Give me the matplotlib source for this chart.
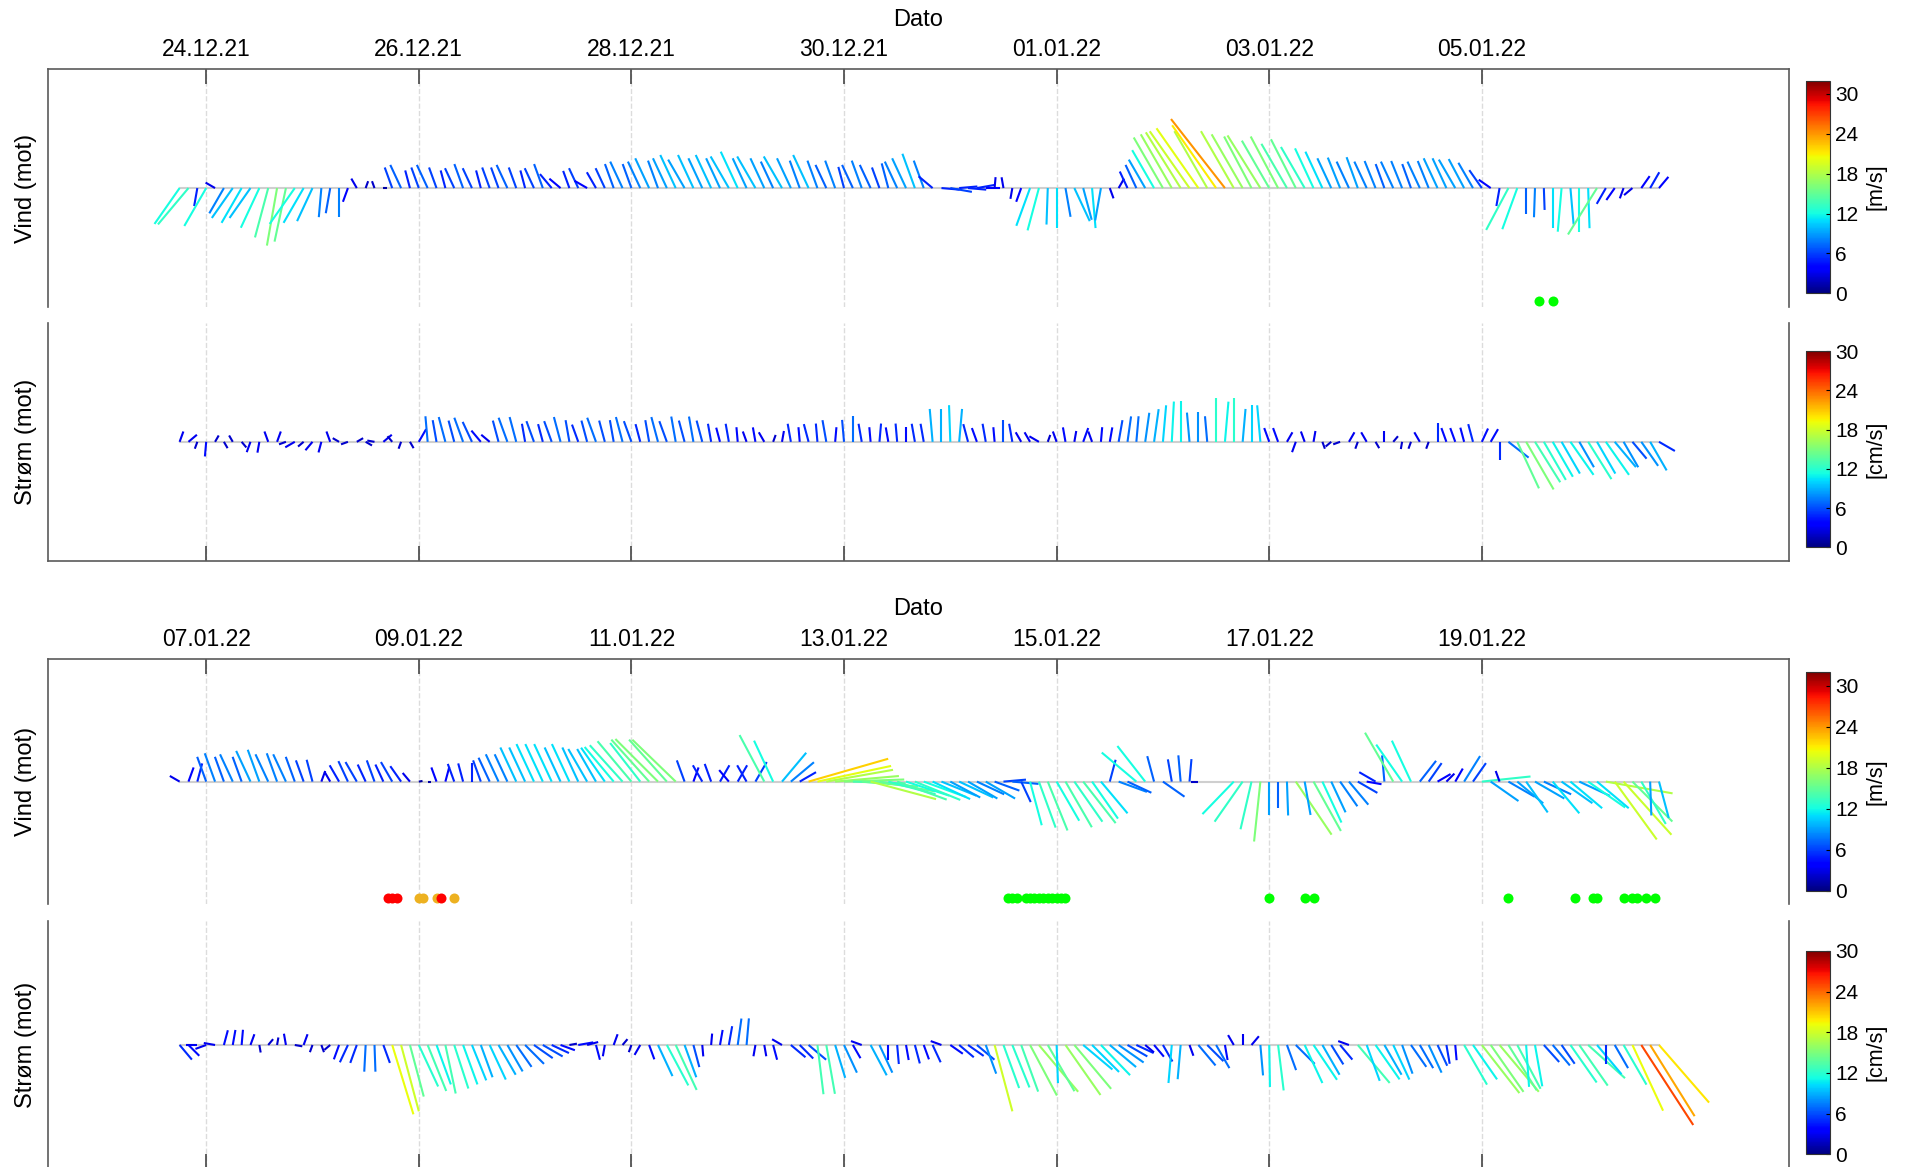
import numpy as np
import matplotlib
matplotlib.use("Agg")
import matplotlib.pyplot as plt
import matplotlib.dates as mdates
from matplotlib.collections import LineCollection
from datetime import datetime

plt.rcParams['font.family'] = ['Liberation Sans', 'DejaVu Sans']

FIG_W, FIG_H, DPI = 1912, 1167, 100
STEP_H = 2          # hours between sticks, one row of 12 = one day
Y_LIM = 32.5

# ---- period 1: sticks from 23.12.21 18:00 ----
start_1 = datetime(2021, 12, 23, 18)
first_tick_1 = datetime(2021, 12, 24)

wind_1_speed = [
    [12, 13, 5, 12, 3, 8, 10, 11, 10, 12, 14, 16],
    [15, 12, 11, 10, 8, 7, 8, 4, 3, 2, 2, 1],
    [6, 7, 5, 6, 7, 6, 5, 6, 7, 6, 5, 6],
    [6, 7, 6, 5, 6, 7, 5, 4, 5, 6, 4, 5],
    [6, 7, 8, 7, 8, 9, 8, 9, 10, 9, 10, 9],
    [10, 9, 10, 11, 9, 10, 9, 8, 10, 9, 8, 10],
    [8, 7, 8, 6, 7, 8, 7, 6, 7, 8, 9, 10],
    [8, 5, 5, 6, 5, 5, 5, 4, 3, 3, 3, 4],
    [11, 12, 10, 11, 8, 10, 9, 11, 9, 3, 3, 5],
    [7, 9, 12, 16, 17, 18, 19, 20, 18, 21, 24, 18],
    [17, 16, 17, 15, 16, 14, 15, 13, 12, 11, 9, 9],
    [8, 9, 8, 8, 7, 8, 8, 7, 8, 8, 9, 9],
    [9, 9, 8, 6, 4, 5, 13, 12, 7, 8, 6, 11],
    [12, 10, 12, 11, 15, 5, 4, 3, 3, 4, 5, 4],
]
wind_1_dir = [
    [215, 220, 190, 210, 300, 210, 215, 210, 215, 205, 195, 190],
    [192, 215, 210, 205, 185, 190, 180, 200, 330, 20, 340, 90],
    [340, 335, 345, 340, 335, 340, 345, 335, 340, 335, 345, 340],
    [340, 335, 340, 345, 335, 340, 320, 310, 340, 335, 300, 330],
    [335, 340, 335, 340, 335, 335, 340, 335, 335, 330, 335, 335],
    [335, 335, 330, 335, 335, 330, 335, 335, 330, 335, 340, 335],
    [340, 335, 340, 345, 335, 340, 335, 340, 345, 335, 335, 340],
    [340, 310, 95, 100, 85, 95, 80, 90, 5, 350, 190, 200],
    [200, 195, 182, 180, 170, 155, 165, 175, 190, 160, 30, 335],
    [335, 330, 330, 330, 330, 328, 325, 325, 330, 325, 322, 330],
    [330, 332, 328, 330, 332, 330, 333, 330, 335, 335, 335, 338],
    [335, 340, 335, 338, 340, 335, 338, 340, 335, 338, 335, 335],
    [330, 332, 330, 325, 305, 190, 208, 200, 180, 182, 178, 180],
    [185, 175, 180, 178, 212, 210, 215, 200, 230, 35, 30, 40],
]
current_1_speed = [
    [3, 3, 2, 4, 2, 2, 2, 2, 3, 3, 3, 3],
    [2, 3, 2, 3, 3, 3, 2, 2, 2, 2, 2, 3],
    [2, 2, 2, 4, 7, 6, 7, 6, 7, 6, 4, 3],
    [6, 7, 7, 5, 6, 5, 6, 7, 6, 5, 6, 7],
    [6, 6, 7, 6, 5, 6, 7, 6, 7, 6, 7, 6],
    [5, 4, 5, 4, 3, 4, 3, 2, 3, 5, 4, 5],
    [5, 6, 4, 6, 7, 5, 4, 5, 4, 5, 4, 5],
    [5, 9, 9, 10, 9, 5, 4, 5, 4, 6, 5, 3],
    [3, 3, 2, 3, 4, 3, 4, 3, 4, 4, 6, 7],
    [7, 8, 9, 10, 11, 11, 8, 8, 7, 12, 11, 12],
    [9, 10, 10, 4, 4, 3, 3, 3, 3, 2, 2, 2],
    [3, 2, 3, 2, 3, 2, 2, 2, 3, 2, 5, 4],
    [4, 4, 5, 4, 4, 5, 7, 14, 15, 13, 12, 11],
    [10, 11, 8, 12, 10, 11, 9, 8, 6, 8, 9, 5],
]
current_1_dir = [
    [20, 50, 200, 185, 30, 150, 330, 140, 200, 190, 340, 20],
    [250, 240, 230, 220, 195, 340, 300, 250, 60, 120, 280, 50],
    [320, 200, 150, 30, 355, 350, 345, 345, 340, 335, 320, 310],
    [345, 340, 345, 350, 340, 345, 340, 345, 350, 340, 345, 340],
    [345, 350, 345, 340, 345, 350, 345, 340, 350, 345, 350, 345],
    [350, 345, 350, 355, 340, 350, 330, 20, 10, 350, 355, 345],
    [355, 350, 5, 355, 0, 350, 355, 5, 350, 355, 0, 350],
    [350, 355, 0, 358, 5, 345, 340, 350, 355, 0, 350, 330],
    [330, 300, 20, 340, 350, 10, 20, 340, 5, 10, 10, 8],
    [5, 8, 8, 5, 3, 0, 355, 0, 355, 0, 5, 0],
    [5, 0, 355, 340, 340, 30, 200, 340, 10, 160, 230, 250],
    [30, 200, 330, 150, 0, 40, 190, 200, 330, 200, 0, 340],
    [340, 345, 345, 25, 30, 180, 128, 155, 150, 148, 150, 150],
    [150, 145, 150, 148, 150, 145, 140, 150, 140, 145, 150, 120],
]
dots_1_green = [datetime(2022, 1, 5, 13), datetime(2022, 1, 5, 16)]

# ---- period 2: sticks from 06.01.22 18:00 ----
start_2 = datetime(2022, 1, 6, 18)
first_tick_2 = datetime(2022, 1, 7)

wind_2_speed = [
    [3, 4, 5, 7, 8, 7, 8, 7, 9, 9, 8, 8],
    [8, 7, 6, 6, 3, 3, 5, 6, 6, 5, 6, 5],
    [6, 5, 3, 1, 1, 4, 4, 5, 5, 5, 6, 7],
    [8, 8, 10, 10, 11, 11, 11, 10, 11, 10, 10, 10],
    [11, 12, 13, 14, 13, 15, 16, 15, 16, 6, 4, 5],
    [5, 5, 4, 5, 5, 6, 14, 12, 10, 8, 5, 22],
    [20, 18, 17, 16, 14, 15, 18, 15, 13, 14, 12, 13],
    [12, 11, 10, 9, 10, 9, 8, 9, 7, 6, 7, 6],
    [12, 13, 14, 12, 14, 13, 14, 12, 11, 6, 8, 7],
    [12, 12, 7, 7, 6, 7, 6, 2, 0, 0, 0, 12],
    [13, 13, 16, 9, 7, 9, 17, 9, 15, 12, 9, 8],
    [8, 6, 4, 5, 7, 15, 12, 12, 7, 6, 4, 3],
    [4, 8, 6, 13, 9, 3, 8, 9, 10, 9, 8, 11],
    [10, 11, 9, 12, 11, 18, 19, 19, 15, 13, 9, 10],
]
wind_2_dir = [
    [300, 20, 15, 340, 340, 340, 335, 340, 335, 340, 335, 340],
    [335, 340, 340, 345, 20, 330, 330, 335, 330, 335, 340, 335],
    [330, 325, 320, 80, 90, 340, 15, 340, 345, 0, 340, 335],
    [335, 335, 335, 335, 335, 335, 335, 335, 335, 335, 330, 330],
    [325, 320, 318, 320, 322, 318, 315, 318, 314, 340, 20, 330],
    [340, 30, 320, 30, 330, 30, 332, 335, 40, 50, 60, 74],
    [78, 80, 85, 88, 92, 95, 105, 100, 105, 110, 108, 112],
    [110, 115, 112, 118, 115, 120, 115, 120, 110, 85, 95, 155],
    [165, 160, 158, 150, 150, 145, 142, 145, 140, 15, 110, 115],
    [310, 322, 345, 125, 350, 355, 5, 270, 90, 90, 90, 224],
    [215, 193, 186, 180, 180, 178, 146, 170, 151, 155, 155, 145],
    [140, 120, 100, 300, 355, 330, 325, 335, 38, 35, 60, 45],
    [30, 32, 35, 84, 125, 340, 120, 130, 145, 120, 115, 140],
    [125, 130, 115, 125, 130, 100, 144, 138, 135, 150, 178, 165],
]
current_2_speed = [
    [5, 4, 3, 3, 3, 4, 4, 4, 3, 2, 2, 2],
    [3, 2, 3, 2, 2, 2, 4, 5, 5, 7, 7, 5],
    [19, 18, 14, 12, 13, 11, 13, 12, 11, 10, 9, 10],
    [9, 8, 7, 7, 6, 6, 5, 4, 2, 4, 3, 4],
    [3, 3, 2, 2, 3, 4, 9, 12, 13, 9, 6, 3],
    [3, 4, 5, 7, 7, 3, 3, 4, 3, 5, 5, 6],
    [13, 13, 9, 8, 4, 3, 9, 8, 4, 5, 4, 5],
    [4, 5, 3, 4, 5, 5, 6, 8, 18, 12, 12, 13],
    [15, 16, 14, 10, 16, 15, 10, 10, 11, 9, 8, 6],
    [5, 3, 4, 5, 10, 9, 3, 7, 6, 7, 4, 3],
    [3, 3, 8, 11, 12, 7, 7, 11, 11, 9, 6, 5],
    [3, 13, 10, 11, 9, 10, 8, 7, 7, 8, 6, 5],
    [4, 12, 11, 16, 15, 16, 14, 13, 11, 11, 6, 7],
    [6, 12, 13, 13, 10, 5, 7, 12, 19, 25, 22, 20],
]
current_2_dir = [
    [140, 135, 270, 250, 280, 15, 10, 5, 20, 170, 40, 10],
    [350, 100, 20, 200, 160, 230, 200, 205, 200, 183, 178, 160],
    [163, 165, 165, 155, 158, 160, 168, 162, 160, 158, 160, 155],
    [150, 150, 145, 135, 125, 120, 115, 110, 80, 80, 75, 165],
    [190, 20, 40, 200, 210, 160, 155, 152, 155, 160, 165, 175],
    [5, 10, 10, 8, 5, 190, 170, 165, 300, 130, 135, 130],
    [173, 170, 163, 155, 150, 290, 152, 155, 180, 175, 170, 165],
    [160, 155, 290, 125, 130, 125, 130, 160, 165, 160, 158, 160],
    [152, 140, 150, 178, 145, 140, 130, 135, 136, 130, 125, 120],
    [115, 130, 140, 150, 185, 185, 160, 140, 135, 150, 170, 330],
    [0, 40, 175, 179, 173, 160, 135, 155, 146, 150, 148, 140],
    [290, 140, 160, 145, 150, 155, 160, 145, 150, 155, 155, 170],
    [175, 150, 145, 142, 145, 140, 148, 152, 176, 170, 138, 140],
    [145, 145, 145, 132, 140, 180, 150, 150, 155, 147, 148, 139],
]
dots_2_red = [datetime(2022, 1, 8, 17), datetime(2022, 1, 8, 18),
              datetime(2022, 1, 8, 19), datetime(2022, 1, 9, 5)]
dots_2_orange = [datetime(2022, 1, 9, 0), datetime(2022, 1, 9, 1),
                 datetime(2022, 1, 9, 4), datetime(2022, 1, 9, 8)]
dots_2_green = ([datetime(2022, 1, 14, h) for h in (13, 14, 15, 17, 18, 19, 20, 21, 22, 23)]
                + [datetime(2022, 1, 15, h) for h in (0, 1, 2)]
                + [datetime(2022, 1, 17, 0), datetime(2022, 1, 17, 8), datetime(2022, 1, 17, 10),
                   datetime(2022, 1, 19, 6), datetime(2022, 1, 19, 21)]
                + [datetime(2022, 1, 20, h) for h in (1, 2, 8, 10, 11, 13, 15)])

DOT_Y = -31
GREEN, ORANGE, RED = '#00ff00', '#edb120', '#ff0000'
SPINE = '#5a5a5a'


def setup_axes(ax, first_tick, top):
    base = mdates.date2num(first_tick)
    ax.set_xlim(base - 1.49, base + 14.89)
    ax.set_ylim(-Y_LIM, Y_LIM)
    ax.set_xticks(base + np.arange(0, 13, 2))
    ax.xaxis.set_major_formatter(mdates.DateFormatter('%d.%m.%y'))
    ax.set_yticks([])
    ax.grid(axis='x', ls='--', color='#dcdcdc', lw=1.0)
    ax.set_axisbelow(True)
    for s in ax.spines.values():
        s.set_color(SPINE)
        s.set_linewidth(1.2)
    if top:
        ax.spines['bottom'].set_visible(False)
        ax.xaxis.tick_top()
        ax.xaxis.set_label_position('top')
        ax.set_xlabel('Dato', fontsize=17, labelpad=9)
        ax.tick_params(axis='x', direction='in', length=11, width=1.2, color='#444444',
                       labelsize=16.5, pad=6, top=True, bottom=False)
    else:
        ax.spines['top'].set_visible(False)
        ax.tick_params(axis='x', direction='in', length=11, width=1.2, color='#444444',
                       labelbottom=False, bottom=True, top=False)


def draw_sticks(ax, start, speed, direction, vmax):
    speed = np.ravel(speed).astype(float)
    theta = np.deg2rad(np.ravel(direction))
    t = mdates.date2num(start) + np.arange(speed.size) * STEP_H / 24.0
    pos = ax.get_position()
    x0, x1 = ax.get_xlim()
    y0, y1 = ax.get_ylim()
    # days per speed unit, so a stick keeps its angle on screen
    k = (pos.height * FIG_H / (y1 - y0)) / (pos.width * FIG_W / (x1 - x0))
    u = speed * np.sin(theta)
    v = speed * np.cos(theta)
    segs = np.stack([np.column_stack([t, np.zeros_like(t)]),
                     np.column_stack([t + u * k, v])], axis=1)
    ax.plot([t[0], t[-1]], [0, 0], color='#cfcfcf', lw=1.5, zorder=1)
    lc = LineCollection(segs, cmap='jet', norm=plt.Normalize(0, vmax),
                        linewidths=1.5, zorder=2)
    lc.set_array(speed)
    ax.add_collection(lc)
    return lc


def add_colorbar(fig, lc, rect, label):
    cax = fig.add_axes(rect)
    cb = fig.colorbar(lc, cax=cax, ticks=[0, 6, 12, 18, 24, 30])
    cb.outline.set_edgecolor('#333333')
    cb.outline.set_linewidth(0.8)
    cax.tick_params(direction='in', length=3, width=0.8, labelsize=15, pad=4)
    cb.set_label(label, fontsize=15.5, labelpad=5)


def add_dots(ax, times, color):
    ax.plot(mdates.date2num(times), [DOT_Y] * len(times), 'o', color=color,
            ms=7.2, mec='none', zorder=3)


fig = plt.figure(figsize=(FIG_W / DPI, FIG_H / DPI), dpi=DPI)

ax_w1 = fig.add_axes([0.0250, 0.7372, 0.9107, 0.2033])
ax_c1 = fig.add_axes([0.0250, 0.5193, 0.9107, 0.2042])
ax_w2 = fig.add_axes([0.0250, 0.2254, 0.9107, 0.2097])
ax_c2 = fig.add_axes([0.0250, -0.0017, 0.9107, 0.2125])

setup_axes(ax_w1, first_tick_1, True)
setup_axes(ax_c1, first_tick_1, False)
setup_axes(ax_w2, first_tick_2, True)
setup_axes(ax_c2, first_tick_2, False)

for ax, lab in ((ax_w1, 'Vind (mot)'), (ax_c1, 'Strøm (mot)'),
                (ax_w2, 'Vind (mot)'), (ax_c2, 'Strøm (mot)')):
    ax.set_ylabel(lab, fontsize=17, labelpad=8)

lc_w1 = draw_sticks(ax_w1, start_1, wind_1_speed, wind_1_dir, 32)
lc_c1 = draw_sticks(ax_c1, start_1, current_1_speed, current_1_dir, 30)
lc_w2 = draw_sticks(ax_w2, start_2, wind_2_speed, wind_2_dir, 32)
lc_c2 = draw_sticks(ax_c2, start_2, current_2_speed, current_2_dir, 30)

add_dots(ax_w1, dots_1_green, GREEN)
add_dots(ax_w2, dots_2_green, GREEN)
add_dots(ax_w2, dots_2_orange, ORANGE)
add_dots(ax_w2, dots_2_red, RED)

add_colorbar(fig, lc_w1, [0.9443, 0.7487, 0.0127, 0.1822], '[m/s]')
add_colorbar(fig, lc_c1, [0.9443, 0.5310, 0.0127, 0.1682], '[cm/s]')
add_colorbar(fig, lc_w2, [0.9443, 0.2368, 0.0127, 0.1874], '[m/s]')
add_colorbar(fig, lc_c2, [0.9443, 0.0109, 0.0127, 0.1742], '[cm/s]')

fig.savefig('out.png', dpi=DPI)
